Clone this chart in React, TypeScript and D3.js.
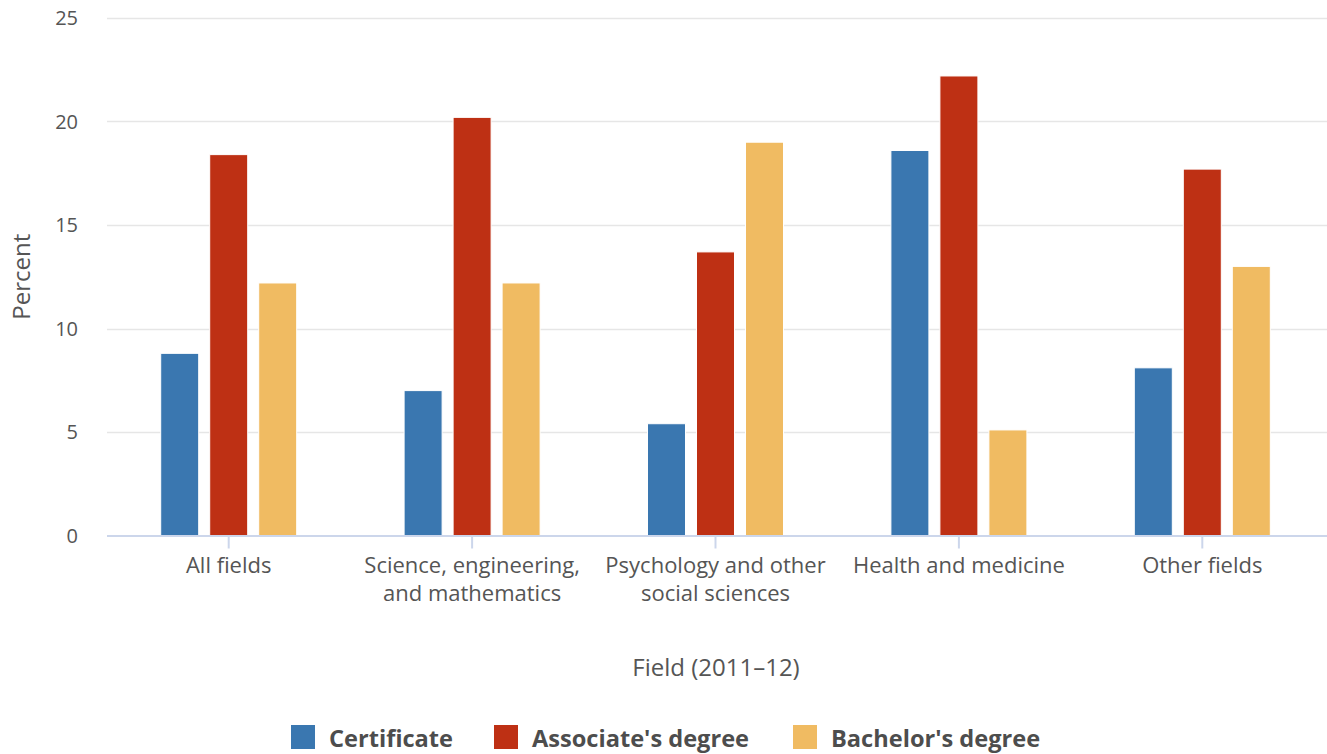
import React from "react";
import * as d3 from "d3";

const categories = [
  ["All fields"],
  ["Science, engineering,", "and mathematics"],
  ["Psychology and other", "social sciences"],
  ["Health and medicine"],
  ["Other fields"],
];
const seriesNames = ["Certificate", "Associate's degree", "Bachelor's degree"];
const certificate = [8.8, 7.0, 5.4, 18.6, 8.1];
const associate = [18.4, 20.2, 13.7, 22.2, 17.7];
const bachelor = [12.2, 12.2, 19.0, 5.1, 13.0];
const colors = ["#3a77b0", "#be3014", "#f0bb62"];
const yTicks = [0, 5, 10, 15, 20, 25];

const W = 1327;
const H = 754;
const left = 107;
const right = 1324;
const top = 18;
const bottom = 535.5;
const font = "'Open Sans', sans-serif";

export default function App() {
  const series = [certificate, associate, bachelor];
  const x = d3.scaleBand<number>().domain(d3.range(categories.length)).range([left, right]);
  const y = d3.scaleLinear().domain([0, 25]).range([bottom, top]);
  const bw = 38;
  const pitch = 49;
  const legendX = [291, 494, 793];
  return (
    <svg width={W} height={H} style={{ position: "absolute", left: 0, top: 0, fontFamily: font }}>
      <rect width={W} height={H} fill="#fff" />
      {yTicks.map((t) => (
        <g key={t}>
          {t > 0 && (
            <line x1={left} x2={W} y1={Math.round(y(t)) + 0.5} y2={Math.round(y(t)) + 0.5} stroke="#e6e6e6" strokeWidth={1.5} />
          )}
          <text x={78} y={y(t) + 7} textAnchor="end" fontSize={20} fill="#555">
            {t}
          </text>
        </g>
      ))}
      {series.map((vals, si) =>
        vals.map((v, ci) => {
          const cx = x(ci)! + x.bandwidth() / 2 + (si - 1) * pitch;
          return (
            <rect
              key={si + "-" + ci}
              x={cx - bw / 2}
              y={y(v)}
              width={bw}
              height={bottom - y(v)}
              fill={colors[si]}
              stroke="#fff"
              strokeWidth={1}
            />
          );
        })
      )}
      <line x1={left} x2={W} y1={bottom + 0.5} y2={bottom + 0.5} stroke="#ccd6eb" strokeWidth={2} />
      {categories.map((lines, ci) => {
        const cx = x(ci)! + x.bandwidth() / 2;
        return (
          <g key={ci}>
            <line x1={cx} x2={cx} y1={bottom} y2={bottom + 13} stroke="#ccd6eb" strokeWidth={2} />
            {lines.map((l, li) => (
              <text key={li} x={cx} y={573 + li * 28} textAnchor="middle" fontSize={22} fill="#555">
                {l}
              </text>
            ))}
          </g>
        );
      })}
      <text
        transform={`translate(30,${(top + bottom) / 2}) rotate(-90)`}
        textAnchor="middle"
        fontSize={24}
        fill="#555"
      >
        Percent
      </text>
      <text x={716} y={676} textAnchor="middle" fontSize={24} fill="#555">
        Field (2011–12)
      </text>
      {seriesNames.map((n, i) => (
        <g key={n}>
          <rect x={legendX[i]} y={725} width={24} height={24} fill={colors[i]} />
          <text x={legendX[i] + 38} y={747} fontSize={23.6} fontWeight="bold" fill="#4d4d4d">
            {n}
          </text>
        </g>
      ))}
    </svg>
  );
}
